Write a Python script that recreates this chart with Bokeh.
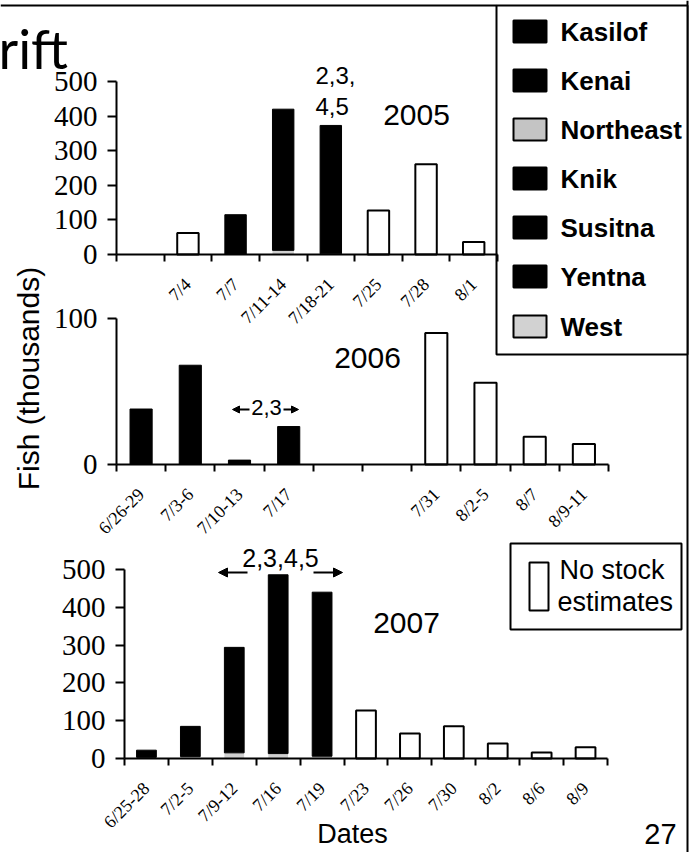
import math
from bokeh.plotting import figure
from bokeh.models import (Range1d, FixedTicker, LinearAxis, Label, Arrow, NormalHead,
                          ColumnDataSource)
from bokeh.embed import file_html
from bokeh.resources import INLINE

W, H = 689, 852

# Drift-gillnet sockeye catch (thousands of fish) by fishing period.
# "stocks" = Kasilof, Kenai, Northeast, Knik, Susitna and Yentna combined,
# "west" = West stock, "no_est" = periods without stock estimates.
dates_2005 = ["", "7/4", "7/7", "7/11-14", "7/18-21", "7/25", "7/28", "8/1"]
stocks_2005 = [0, 0, 115, 408, 371, 0, 0, 0]
west_2005 = [0, 0, 0, 12, 2, 0, 0, 0]
no_est_2005 = [0, 62, 0, 0, 0, 127, 261, 36]

dates_2006 = ["6/26-29", "7/3-6", "7/10-13", "7/17", "", "", "7/31", "8/2-5", "8/7", "8/9-11"]
stocks_2006 = [38, 68, 3, 26, 0, 0, 0, 0, 0, 0]
west_2006 = [0, 0, 0, 0, 0, 0, 0, 0, 0, 0]
no_est_2006 = [0, 0, 0, 0, 0, 0, 90, 56, 19, 14]

dates_2007 = ["6/25-28", "7/2-5", "7/9-12", "7/16", "7/19", "7/23", "7/26", "7/30", "8/2", "8/6", "8/9"]
stocks_2007 = [19, 80, 279, 473, 434, 0, 0, 0, 0, 0, 0]
west_2007 = [3, 5, 15, 13, 6, 0, 0, 0, 0, 0, 0]
no_est_2007 = [0, 0, 0, 0, 0, 127, 66, 85, 40, 16, 30]

y_ticks_2005 = [0, 100, 200, 300, 400, 500]
y_ticks_2006 = [0, 100]
y_ticks_2007 = [0, 100, 200, 300, 400, 500]

stock_names = ["Kasilof", "Kenai", "Northeast", "Knik", "Susitna", "Yentna", "West"]
stock_fills = ["black", "black", "#c4c4c4", "black", "black", "black", "#d2d2d2"]

SERIF = "Liberation Serif"
SANS = "Liberation Sans"

# One page-sized canvas; the default ranges are page pixels (y grows downward).
p = figure(width=W, height=H, x_range=Range1d(0, W), y_range=Range1d(H, 0),
           x_axis_type=None, y_axis_type=None, min_border=0,
           output_backend="svg", toolbar_location=None, tools="")
p.outline_line_color = None
p.xgrid.grid_line_color = None
p.ygrid.grid_line_color = None


def year_panel(tag, dates, stocks, west, no_est, yticks, left, right, top, bottom):
    """Bar panel whose plotting box spans page pixels left..right, top..bottom."""
    n = len(dates)
    ymax = yticks[-1]
    sx = (right - left) / n
    sy = (bottom - top) / ymax
    xr, yr = "x" + tag, "y" + tag
    p.extra_x_ranges[xr] = Range1d(-left / sx, n + (W - right) / sx)
    p.extra_y_ranges[yr] = Range1d(-(H - bottom) / sy, ymax + top / sy)
    centers = [i + 0.5 for i in range(n)]

    est = [i for i in range(n) if stocks[i] + west[i] > 0]
    src = ColumnDataSource(dict(x=[centers[i] for i in est],
                                west=[west[i] for i in est],
                                stocks=[stocks[i] for i in est]))
    p.vbar_stack(["west", "stocks"], x="x", width=0.45, source=src,
                 fill_color=["#d0d0d0", "black"], line_color=[None, "black"], line_width=1,
                 x_range_name=xr, y_range_name=yr)

    ne = [i for i in range(n) if no_est[i] > 0]
    p.vbar(x=[centers[i] for i in ne], top=[no_est[i] for i in ne], width=0.45,
           fill_color="white", line_color="black", line_width=2,
           x_range_name=xr, y_range_name=yr)

    labeled = [i for i in range(n) if dates[i]]
    xa = LinearAxis(x_range_name=xr, y_range_name=yr, fixed_location=0, bounds=(0, n),
                    ticker=FixedTicker(ticks=[centers[i] for i in labeled],
                                       minor_ticks=list(range(n + 1))))
    xa.major_label_overrides = {centers[i]: dates[i] for i in labeled}
    xa.major_label_orientation = math.pi / 4
    xa.major_tick_out = 0
    xa.major_tick_in = 0
    xa.minor_tick_out = 7
    xa.minor_tick_in = 0
    xa.minor_tick_line_width = 2
    xa.minor_tick_line_color = "black"
    xa.axis_line_width = 2
    xa.axis_line_color = "black"
    xa.major_label_text_font = SERIF
    xa.major_label_text_font_size = "18px"
    xa.major_label_text_color = "black"
    xa.major_label_standoff = 20
    p.add_layout(xa, "below")

    ya = LinearAxis(x_range_name=xr, y_range_name=yr, fixed_location=0, bounds=(0, ymax),
                    ticker=FixedTicker(ticks=yticks, minor_ticks=[]))
    ya.major_tick_out = 9
    ya.major_tick_in = 0
    ya.major_tick_line_width = 2
    ya.major_tick_line_color = "black"
    ya.axis_line_width = 2
    ya.axis_line_color = "black"
    ya.major_label_text_font = SERIF
    ya.major_label_text_font_size = "29px"
    ya.major_label_text_color = "black"
    ya.major_label_standoff = 10
    p.add_layout(ya, "left")


year_panel("05", dates_2005, stocks_2005, west_2005, no_est_2005, y_ticks_2005, 116, 497, 81, 254)
year_panel("06", dates_2006, stocks_2006, west_2006, no_est_2006, y_ticks_2006, 116, 608, 318, 464)
year_panel("07", dates_2007, stocks_2007, west_2007, no_est_2007, y_ticks_2007, 124, 607, 569, 758)

# page frame lines
p.line(x=[0, 496], y=[5, 5], line_color="black", line_width=2)
p.line(x=[687, 687], y=[0, H], line_color="black", line_width=2)


def txt(x, y, text, size, font=SANS, align="left", baseline="middle", angle=0, style="normal"):
    p.add_layout(Label(x=x, y=y, text=text, text_font=font, text_font_size=f"{size}px",
                       text_align=align, text_baseline=baseline, angle=angle,
                       text_font_style=style, text_color="black"))


def arrow(x0, x1, y, size):
    p.add_layout(Arrow(x_start=x0, y_start=y, x_end=x1, y_end=y, line_width=2,
                       end=NormalHead(size=size, fill_color="black", line_color="black")))


txt(-2, 48, "rift", 54, font="Lato")

# stock legend
p.quad(left=496, right=687, top=5, bottom=354, fill_color="white", line_color="black", line_width=2)
leg_y = [31, 80, 129, 178, 227, 276, 326]
for name, fill, yy in zip(stock_names, stock_fills, leg_y):
    p.quad(left=513, right=546, top=yy - 11, bottom=yy + 11, fill_color=fill,
           line_color="black", line_width=2)
    txt(560, yy, name, 26, style="bold")

# no-estimate legend
p.quad(left=510, right=681, top=543, bottom=629, fill_color="white", line_color="black", line_width=2)
p.quad(left=529, right=548, top=562, bottom=610, fill_color="white", line_color="black", line_width=2)
txt(559, 569, "No stock", 27)
txt(557, 601, "estimates", 27)

# year tags and stock-group notes
txt(416, 114, "2005", 30, align="center")
txt(367, 357, "2006", 30, align="center")
txt(406, 622, "2007", 30, align="center")
txt(315, 75, "2,3,", 24)
txt(315, 106, "4,5", 24)
txt(266, 407, "2,3", 22, align="center")
arrow(249, 232, 409, 7)
arrow(283, 298, 409, 7)
txt(280, 557, "2,3,4,5", 25, align="center")
arrow(247, 218, 572, 9)
arrow(313, 342, 572, 9)

# shared axis titles and page number
txt(28, 378, "Fish (thousands)", 30, align="center", angle=math.pi / 2)
txt(352, 833, "Dates", 27, align="center")
txt(660, 833, "27", 29, align="center")

with open("out.html", "w") as f:
    f.write(file_html(p, INLINE))
